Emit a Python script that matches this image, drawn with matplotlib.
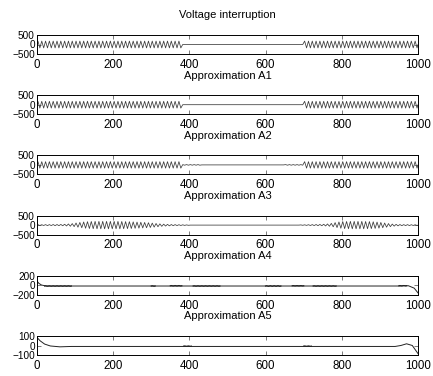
import numpy as np
import matplotlib
matplotlib.use('Agg')
import matplotlib.pyplot as plt

plt.rcParams['font.family'] = ['Liberation Sans', 'DejaVu Sans']

# samples 0..1000, one cycle of the wave = 10 samples
n_samples = 1000
period = 10
xticks = [0, 200, 400, 600, 800, 1000]

titles = ['Voltage interruption', 'Approximation A1', 'Approximation A2',
          'Approximation A3', 'Approximation A4', 'Approximation A5']
ylims = [500, 500, 500, 500, 200, 100]

# amplitude per cycle, as runs (first cycle, last cycle + 1, amplitude)
signal_runs = [(0, 38, 180), (38, 70, 0), (70, 100, 180)]
a1_runs = [(0, 38, 178), (38, 70, 0), (70, 100, 178)]
a2_runs = [(0, 38, 170), (38, 43, 15), (43, 65, 0), (65, 70, 15), (70, 100, 170)]

# A3: amplitude read cycle by cycle (100 cycles)
a3_amp = [20, 20, 25, 25, 30, 30, 35, 45, 60, 80,
          110, 140, 165, 180, 190, 195, 195, 195, 195, 195,
          195, 195, 190, 185, 180, 170, 160, 150, 140, 125,
          105, 85, 65, 50, 40, 30, 25, 20, 15, 10,
          0, 0, 0, 0, 0, 0, 0, 0, 0, 0,
          0, 0, 0, 0, 0, 0, 0, 0, 0, 0,
          0, 0, 0, 0, 0, 0, 0, 0, 0, 10,
          15, 20, 25, 30, 35, 45, 60, 90, 130, 165,
          185, 190, 195, 195, 195, 195, 190, 185, 175, 160,
          140, 110, 80, 55, 40, 30, 25, 25, 20, 20]
a3_start = 120

# A4 / A5: slow trend points and short ripple runs (start, end, level, amplitude)
a4_x = [0, 5, 12, 25, 950, 965, 975, 990, 1000]
a4_y = [90, 40, 5, -15, -15, -8, -10, -60, -160]
a4_ripples = [(20, 90, -15, 4), (300, 310, -15, 4), (350, 380, -10, 4),
              (410, 480, -15, 4), (600, 640, -15, 6), (670, 700, -10, 3),
              (725, 785, -15, 4), (950, 970, -10, 4)]

a5_x = [0, 8, 20, 35, 60, 90, 940, 955, 970, 985, 1000]
a5_y = [85, 50, 15, -5, -14, -10, -10, 0, 18, 0, -85]
a5_ripples = [(385, 405, -7, 2), (700, 725, -7, 2)]


def runs_to_amp(runs):
    amp = []
    for c0, c1, a in runs:
        amp += [a] * (c1 - c0)
    return amp


def zigzag(amp, x0=0):
    xs, ys = [x0], [0]
    for k, a in enumerate(amp):
        xs += [x0 + k * period + 2.5, x0 + k * period + 7.5]
        ys += [a, -a]
    xs.append(x0 + len(amp) * period)
    ys.append(0)
    return np.array(xs), np.array(ys)


fig = plt.figure(figsize=(4.33, 3.76), dpi=100)
H = 376.0
left, width = 37 / 433, 381 / 433
wave_color = '#3a3a3a'

for i in range(6):
    bottom = 1 - (54 + 60.2 * i) / H
    ax = fig.add_axes([left, bottom, width, 19 / H])
    lw = 0.55
    if i == 0:
        x, y = zigzag(runs_to_amp(signal_runs))
        ax.plot(x, y, color=wave_color, lw=lw)
    elif i == 1:
        x, y = zigzag(runs_to_amp(a1_runs))
        ax.plot(x, y, color=wave_color, lw=lw)
    elif i == 2:
        x, y = zigzag(runs_to_amp(a2_runs))
        ax.plot(x, y, color=wave_color, lw=lw)
    elif i == 3:
        x, y = zigzag(a3_amp)
        y[0] = a3_start
        ax.plot(x, y, color=wave_color, lw=lw)
    elif i == 4:
        ax.plot(a4_x, a4_y, color='#222222', lw=0.7)
        for s, e, lev, a in a4_ripples:
            n = (e - s) // period
            x, y = zigzag([a] * n, x0=s)
            ax.plot(x, y + lev, color='#222222', lw=0.9)
    else:
        ax.plot(a5_x, a5_y, color='#222222', lw=0.7)
        for s, e, lev, a in a5_ripples:
            n = (e - s) // period
            x, y = zigzag([a] * n, x0=s)
            ax.plot(x, y + lev, color='#222222', lw=0.9)

    ax.set_xlim(0, n_samples)
    ax.set_ylim(-ylims[i], ylims[i])
    ax.set_xticks(xticks)
    ax.set_yticks([-ylims[i], 0, ylims[i]])
    ax.tick_params(direction='in', top=True, right=True, length=3, width=0.6,
                   color='#666666', pad=1.5)
    ax.tick_params(axis='y', labelsize=7.2)
    ax.tick_params(axis='x', labelsize=8.3, pad=3.5)
    for sp in ax.spines.values():
        sp.set_linewidth(0.7)
    ax.set_title(titles[i], fontsize=8, pad=12)

fig.savefig('out.png', dpi=100)
